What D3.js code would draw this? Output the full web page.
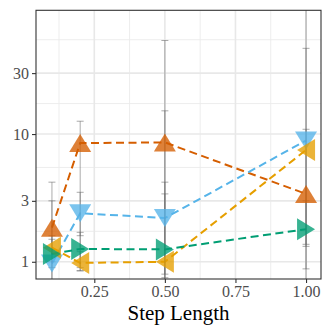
<!DOCTYPE html>
<html>
<head>
<meta charset="utf-8">
<script src="https://cdn.jsdelivr.net/npm/d3@7"></script>
<style>
  body { margin: 0; background: #fff; }
  svg text { font-family: "Liberation Serif", "DejaVu Serif", serif; }
</style>
</head>
<body>
<script>
// step lengths on the x axis
let steps = [0.1, 0.2, 0.5, 1.0];

// series values with error bar ends
let redVals = [1.85, 8.5, 8.6, 3.4];
let redLo = [0.6, 0.85, 0.6, 0.6];
let redHi = [4.2, 12.6, 54, 10.9];

let blueVals = [0.97, 2.4, 2.2, 8.9];
let blueLo = [0.68, 1.6, 0.7, 1.32];
let blueHi = [3.0, 3.5, 15.2, 46.9];

let greenVals = [1.15, 1.26, 1.25, 1.8];
let greenLo = [0.9, 0.9, 0.8, 0.88];
let greenHi = [1.5, 1.7, 4.2, 3.0];

let orangeVals = [1.29, 0.98, 1.0, 7.5];
let orangeLo = [1.0, 0.85, 0.75, 1.37];
let orangeHi = [1.6, 1.2, 3.4, 200];

let xTicks = [0.25, 0.5, 0.75, 1.0];
let xMinor = [0.125, 0.375, 0.625, 0.875];
let yTicks = [1, 3, 10, 30];
let yMinor = [1.732, 5.477, 17.32, 54.77];

let series = [
  {vals: redVals, lo: redLo, hi: redHi, color: "#D55E00", shape: "up"},
  {vals: blueVals, lo: blueLo, hi: blueHi, color: "#56B4E9", shape: "down"},
  {vals: orangeVals, lo: orangeLo, hi: orangeHi, color: "#E69F00", shape: "left"},
  {vals: greenVals, lo: greenLo, hi: greenHi, color: "#009E73", shape: "right"}
];

let margin = {top: 10.3, right: 11, bottom: 53, left: 36},
    width = 332 - margin.left - margin.right,
    height = 332 - margin.top - margin.bottom;

let svg = d3.select("body").append("svg")
  .attr("width", 332)
  .attr("height", 332)
  .append("g")
  .attr("transform", "translate(" + margin.left + "," + margin.top + ")");

let x = d3.scaleLinear().domain([0.0435, 1.053]).range([0, width]);
let y = d3.scaleLog().domain([0.733, 93.1]).range([height, 0]);

svg.append("defs").append("clipPath").attr("id", "clip")
  .append("rect").attr("width", width).attr("height", height);

// grid
let grid = svg.append("g");
grid.selectAll(".xminor").data(xMinor).enter().append("line")
  .attr("x1", d => x(d)).attr("x2", d => x(d))
  .attr("y1", 0).attr("y2", height)
  .attr("stroke", "#ebebeb").attr("stroke-width", 0.9);
grid.selectAll(".yminor").data(yMinor).enter().append("line")
  .attr("y1", d => y(d)).attr("y2", d => y(d))
  .attr("x1", 0).attr("x2", width)
  .attr("stroke", "#ebebeb").attr("stroke-width", 0.9);
grid.selectAll(".xmajor").data(xTicks).enter().append("line")
  .attr("x1", d => x(d)).attr("x2", d => x(d))
  .attr("y1", 0).attr("y2", height)
  .attr("stroke", "#e8e8e8").attr("stroke-width", 1.6);
grid.selectAll(".ymajor").data(yTicks).enter().append("line")
  .attr("y1", d => y(d)).attr("y2", d => y(d))
  .attr("x1", 0).attr("x2", width)
  .attr("stroke", "#e8e8e8").attr("stroke-width", 1.6);

let plot = svg.append("g").attr("clip-path", "url(#clip)");

// dashed lines
let line = d3.line().x((d, i) => x(steps[i])).y(d => y(d));
series.forEach(function(s) {
  plot.append("path")
    .attr("d", line(s.vals))
    .attr("fill", "none")
    .attr("stroke", s.color)
    .attr("stroke-width", 2)
    .attr("stroke-dasharray", "8,4.5");
});

// error bars
series.forEach(function(s) {
  let g = plot.append("g").attr("stroke", "#666").attr("stroke-opacity", 0.55).attr("stroke-width", 1);
  steps.forEach(function(st, i) {
    g.append("line").attr("x1", x(st)).attr("x2", x(st))
      .attr("y1", y(s.lo[i])).attr("y2", y(s.hi[i]));
    g.append("line").attr("x1", x(st) - 3.5).attr("x2", x(st) + 3.5)
      .attr("y1", y(s.lo[i])).attr("y2", y(s.lo[i]));
    g.append("line").attr("x1", x(st) - 3.5).attr("x2", x(st) + 3.5)
      .attr("y1", y(s.hi[i])).attr("y2", y(s.hi[i]));
  });
});

// markers
function tri(shape) {
  let a = 11, b = 9;
  if (shape === "up") return "M0," + (-b) + "L" + a + "," + b + "L" + (-a) + "," + b + "Z";
  if (shape === "down") return "M0," + b + "L" + a + "," + (-b) + "L" + (-a) + "," + (-b) + "Z";
  if (shape === "right") return "M" + b + ",0L" + (-b) + "," + a + "L" + (-b) + "," + (-a) + "Z";
  return "M" + (-b) + ",0L" + b + "," + a + "L" + b + "," + (-a) + "Z";
}
series.forEach(function(s) {
  plot.selectAll(null).data(s.vals).enter().append("path")
    .attr("d", tri(s.shape))
    .attr("transform", (d, i) => "translate(" + x(steps[i]) + "," + y(d) + ")")
    .attr("fill", s.color)
    .attr("fill-opacity", 0.78);
});

// panel border
svg.append("rect").attr("width", width).attr("height", height)
  .attr("fill", "none").attr("stroke", "#333").attr("stroke-width", 1.1);

// axes
let xaxis = svg.append("g")
  .attr("transform", "translate(0," + height + ")")
  .call(d3.axisBottom(x).tickValues(xTicks).tickFormat(d3.format(".2f")).tickSize(4).tickPadding(3));
let yaxis = svg.append("g")
  .call(d3.axisLeft(y).tickValues(yTicks).tickFormat(d3.format("d")).tickSize(4).tickPadding(3));
[xaxis, yaxis].forEach(function(a) {
  a.select(".domain").remove();
  a.selectAll("line").attr("stroke", "#333").attr("stroke-width", 1.1);
  a.selectAll("text").attr("fill", "#4d4d4d").style("font-size", "16px")
    .style("font-family", "'Liberation Serif', serif");
});

svg.append("text")
  .attr("x", width / 2)
  .attr("y", height + 41)
  .attr("text-anchor", "middle")
  .style("font-size", "21px")
  .attr("fill", "#000")
  .text("Step Length");
</script>
</body>
</html>
